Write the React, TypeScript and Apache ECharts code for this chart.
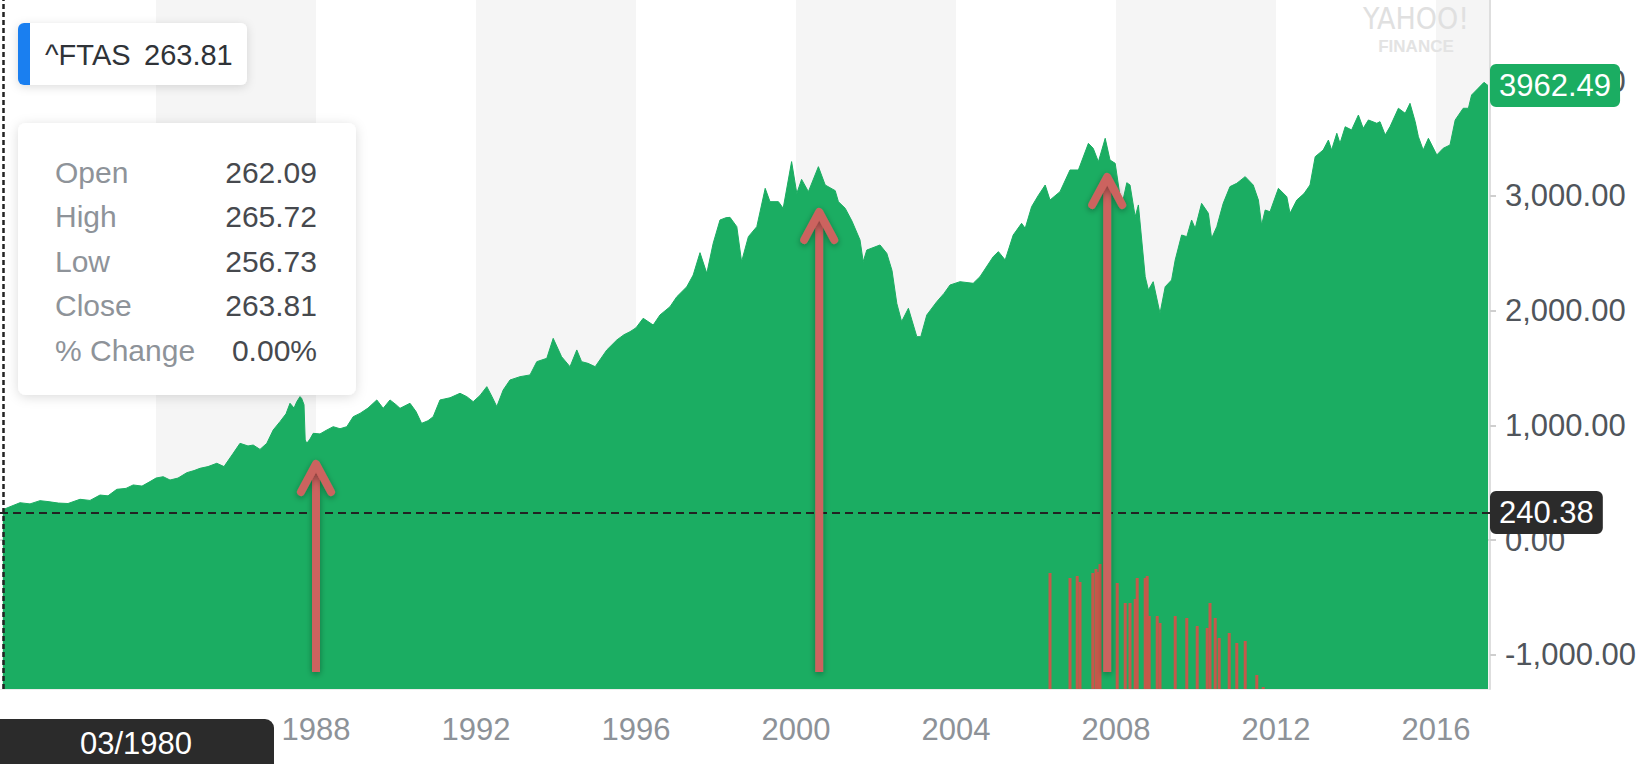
import React, { useEffect, useRef } from "react";
import * as echarts from "echarts";

// ---- data (decimal years) ----
const dates = [
  1980.17, 1980.35, 1980.6, 1980.85, 1981.1, 1981.3, 1981.56, 1981.8, 1982.1, 1982.35,
  1982.6, 1982.8, 1983.02, 1983.25, 1983.43, 1983.65, 1983.85, 1984.0, 1984.18, 1984.35,
  1984.55, 1984.77, 1984.95, 1985.1, 1985.3, 1985.52, 1985.7, 1985.93, 1986.1, 1986.3,
  1986.43, 1986.6, 1986.77, 1986.93, 1987.1, 1987.25, 1987.35, 1987.45, 1987.52, 1987.6,
  1987.64, 1987.7, 1987.73, 1987.77, 1987.85, 1987.93, 1988.1, 1988.25, 1988.43, 1988.6,
  1988.77, 1988.93, 1989.1, 1989.3, 1989.52, 1989.68, 1989.85, 1990.0, 1990.1, 1990.35,
  1990.5, 1990.64, 1990.8, 1990.93, 1991.1, 1991.35, 1991.6, 1991.77, 1991.93, 1992.1,
  1992.27, 1992.4, 1992.52, 1992.68, 1992.85, 1993.1, 1993.35, 1993.52, 1993.77, 1993.93,
  1994.14, 1994.35, 1994.52, 1994.64, 1994.8, 1994.98, 1995.27, 1995.52, 1995.7, 1995.85,
  1996.0, 1996.18, 1996.43, 1996.6, 1996.85, 1997.02, 1997.27, 1997.43, 1997.6, 1997.77,
  1997.93, 1998.1, 1998.25, 1998.35, 1998.52, 1998.64, 1998.81, 1999.02, 1999.23, 1999.35,
  1999.56, 1999.68, 1999.89, 2000.02, 2000.14, 2000.31, 2000.56, 2000.73, 2000.98, 2001.06,
  2001.23, 2001.4, 2001.6, 2001.68, 2001.77, 2002.1, 2002.27, 2002.4, 2002.52, 2002.64,
  2002.81, 2003.02, 2003.12, 2003.27, 2003.52, 2003.7, 2003.85, 2004.1, 2004.43, 2004.6,
  2004.93, 2005.06, 2005.23, 2005.43, 2005.64, 2005.73, 2005.89, 2006.05, 2006.23, 2006.35,
  2006.6, 2006.85, 2007.06, 2007.31, 2007.43, 2007.56, 2007.73, 2007.85, 2007.98, 2008.14,
  2008.27, 2008.35, 2008.48, 2008.56, 2008.73, 2008.81, 2008.93, 2009.1, 2009.23, 2009.39,
  2009.48, 2009.64, 2009.77, 2009.89, 2009.98, 2010.14, 2010.31, 2010.39, 2010.52, 2010.68,
  2010.85, 2011.02, 2011.23, 2011.43, 2011.56, 2011.64, 2011.73, 2011.85, 2012.06, 2012.27,
  2012.35, 2012.52, 2012.7, 2012.85, 2012.98, 2013.18, 2013.31, 2013.39, 2013.52, 2013.6,
  2013.73, 2013.89, 2014.06, 2014.18, 2014.31, 2014.52, 2014.6, 2014.73, 2014.85, 2015.06,
  2015.23, 2015.35, 2015.48, 2015.56, 2015.68, 2015.81, 2016.02, 2016.18, 2016.35, 2016.48,
  2016.68, 2016.81, 2016.89, 2017.06, 2017.2, 2017.3,
];
const closes = [
  263.81, 290, 325, 315, 343, 335, 322, 318, 355, 345,
  392, 385, 442, 450, 480, 470, 509, 540, 552, 523,
  540, 587, 605, 625, 640, 669, 640, 756, 843, 820,
  828, 790, 843, 959, 1032, 1100, 1192, 1150, 1206, 1250,
  1235, 1180, 872, 843, 880, 930, 925, 955, 988, 970,
  988, 1075, 1104, 1150, 1221, 1148, 1221, 1180, 1148, 1192,
  1120, 1017, 1040, 1075, 1221, 1240, 1279, 1250, 1206, 1260,
  1337, 1250, 1163, 1308, 1395, 1424, 1439, 1555, 1584, 1758,
  1598, 1511, 1657, 1555, 1540, 1511, 1657, 1744, 1790, 1816,
  1850, 1933, 1874, 1962, 2034, 2121, 2208, 2310, 2505, 2325,
  2587, 2790, 2810, 2813, 2732, 2427, 2645, 2732, 3066, 2950,
  2950, 2892, 3299, 3022, 3144, 3037, 3255, 3095, 3046, 2950,
  2892, 2780, 2616, 2427, 2528, 2572, 2499, 2350, 2063, 1904,
  2020, 1773, 1773, 1962, 2078, 2150, 2223, 2252, 2238, 2296,
  2470, 2514, 2441, 2659, 2761, 2717, 2906, 3000, 3095, 2964,
  3037, 3226, 3226, 3458, 3415, 3298, 3502, 3313, 3284, 2906,
  3115, 3095, 2819, 2921, 2296, 2180, 2252, 1976, 2208, 2267,
  2441, 2659, 2645, 2790, 2717, 2935, 2848, 2630, 2732, 2935,
  3081, 3110, 3168, 3095, 2964, 2746, 2877, 2862, 3066, 2993,
  2848, 2964, 3020, 3095, 3342, 3400, 3487, 3400, 3546, 3458,
  3603, 3575, 3705, 3589, 3662, 3633, 3647, 3531, 3603, 3764,
  3720, 3807, 3647, 3516, 3400, 3502, 3357, 3415, 3444, 3662,
  3764, 3764, 3880, 3940, 3990, 3962.49,
];

const volDates = [
  2006.35, 2006.85, 2007.03, 2007.1, 2007.42, 2007.5, 2007.54, 2007.6, 2008.03, 2008.23,
  2008.35, 2008.48, 2008.53, 2008.73, 2008.78, 2008.83, 2009.03, 2009.1, 2009.48, 2009.77,
  2010.03, 2010.28, 2010.35, 2010.48, 2010.58, 2010.83, 2011.02, 2011.23, 2011.52, 2011.68,
];
const volumes = [
  116, 111, 113, 107, 116, 120, 117, 125, 106, 86,
  86, 90, 111, 111, 113, 73, 73, 66, 73, 71,
  63, 61, 86, 71, 51, 56, 46, 48, 14, 2,
];

const arrowDates = [1988.0, 2000.58, 2007.78];
const arrowTips = [663, 2860, 3165];
const arrowBase = -1151;

const xMin = 1980.1;
const xMax = 2017.35;
const yMin = -1299;
const yMax = 4708;

const hiddenXLabels = [1984]; // covered by the date cursor label in the reference
const lastClose = 3962.49;
const cursorValue = 240.38;
const cursorDate = 1980.17;
const cursorLabel = "03/1980";
const symbolName = "^FTAS";
const symbolPrice = "263.81";
const tipLabels = ["Open", "High", "Low", "Close", "% Change"];
const tipValues = ["262.09", "265.72", "256.73", "263.81", "0.00%"];

const GREEN = "#1bad62";
const ARROW = "#cc645e";
const FONT = "'Liberation Sans', Arial, Helvetica, sans-serif";

export default function App() {
  const ref = useRef<HTMLDivElement>(null);

  useEffect(() => {
    if (!ref.current) return;
    const chart = echarts.init(ref.current, undefined, { renderer: "svg" });

    const rowGap = 44.5;
    const tipTexts: any[] = [];
    tipLabels.forEach((l, i) => {
      tipTexts.push({
        type: "text",
        x: 55,
        y: 172 + i * rowGap,
        z: 101,
        style: { text: l, fill: "#8e9399", fontSize: 30, fontFamily: FONT, textVerticalAlign: "middle", textAlign: "left" },
      });
      tipTexts.push({
        type: "text",
        x: 317,
        y: 172 + i * rowGap,
        z: 101,
        style: { text: tipValues[i], fill: "#46494e", fontSize: 30, fontFamily: FONT, textVerticalAlign: "middle", textAlign: "right" },
      });
    });

    const option: any = {
      animation: false,
      textStyle: { fontFamily: FONT },
      grid: { left: 0, right: 152, top: 0, bottom: 75, containLabel: false },
      xAxis: {
        type: "value",
        min: xMin,
        max: xMax,
        minInterval: 4,
        maxInterval: 4,
        splitNumber: 9,
        axisLine: { show: true, lineStyle: { color: "#d9d9d9", width: 2 } },
        axisTick: { show: true, length: 12, lineStyle: { color: "#d0d0d0", width: 2 } },
        axisLabel: {
          formatter: (v: number) => {
            const y = Math.round(v);
            return hiddenXLabels.indexOf(y) >= 0 ? "" : String(y);
          },
          showMinLabel: false,
          showMaxLabel: false,
          color: "#8d9298",
          fontSize: 31,
          margin: 25,
          fontFamily: FONT,
        },
        splitLine: { show: false },
        splitArea: { show: true, areaStyle: { color: ["#ffffff", "#f5f5f5"] } },
      },
      yAxis: [
        {
          type: "value",
          position: "right",
          min: yMin,
          max: yMax,
          minInterval: 1000,
          maxInterval: 1000,
          splitNumber: 6,
          axisLine: { show: true, lineStyle: { color: "#dedede", width: 2 } },
          axisTick: { show: true, length: 6, lineStyle: { color: "#cfcfcf", width: 2 } },
          axisLabel: {
            formatter: (v: number) =>
              v.toLocaleString("en-US", { minimumFractionDigits: 2, maximumFractionDigits: 2 }),
            showMinLabel: false,
            showMaxLabel: false,
            color: "#50555b",
            fontSize: 31,
            margin: 15,
            fontFamily: FONT,
          },
          splitLine: { show: true, lineStyle: { color: "#ececec", width: 2 } },
        },
        { type: "value", min: 0, max: 689, show: false },
      ],
      series: [
        {
          type: "line",
          data: dates.map((d, i) => [d, closes[i]]),
          showSymbol: false,
          symbol: "none",
          lineStyle: { width: 1, color: GREEN },
          areaStyle: { color: GREEN, opacity: 1, origin: "start" },
          z: 2,
          markLine: {
            symbol: ["none", "none"],
            silent: true,
            animation: false,
            data: [
              {
                yAxis: cursorValue,
                lineStyle: { type: [8, 5], color: "#222222", width: 2 },
                label: {
                  show: true,
                  position: "end",
                  distance: 0,
                  formatter: String(cursorValue),
                  color: "#ffffff",
                  backgroundColor: "#2b2b2b",
                  padding: [7, 9, 5, 9],
                  borderRadius: 6,
                  fontSize: 31,
                  fontFamily: FONT,
                },
              },
              {
                yAxis: lastClose,
                lineStyle: { color: "rgba(0,0,0,0)", width: 0 },
                label: {
                  show: true,
                  position: "end",
                  distance: 0,
                  formatter: String(lastClose),
                  color: "#ffffff",
                  backgroundColor: GREEN,
                  padding: [7, 9, 5, 9],
                  borderRadius: 6,
                  fontSize: 31,
                  fontFamily: FONT,
                },
              },
              {
                xAxis: cursorDate,
                lineStyle: { type: [5, 3], color: "#222222", width: 2.5 },
                label: { show: false },
              },
            ],
          },
        },
        {
          type: "bar",
          xAxisIndex: 0,
          yAxisIndex: 1,
          data: volDates.map((d, i) => [d, volumes[i]]),
          barWidth: 3,
          itemStyle: { color: "#c5584a" },
          z: 3,
        },
        {
          type: "custom",
          coordinateSystem: "cartesian2d",
          xAxisIndex: 0,
          yAxisIndex: 0,
          z: 10,
          data: arrowDates.map((d, i) => [d, arrowTips[i], arrowBase]),
          encode: { x: 0, y: [1, 2] },
          renderItem: (params: any, api: any) => {
            const tip = api.coord([api.value(0), api.value(1)]);
            const base = api.coord([api.value(0), api.value(2)]);
            const shadow = {
              shadowBlur: 6,
              shadowColor: "rgba(0,0,0,0.35)",
              shadowOffsetY: 2,
            };
            return {
              type: "group",
              children: [
                {
                  type: "rect",
                  shape: { x: tip[0] - 4, y: tip[1] + 4, width: 8, height: base[1] - tip[1] - 4 },
                  style: { fill: ARROW, ...shadow },
                },
                {
                  type: "polyline",
                  shape: {
                    points: [
                      [tip[0] - 15, tip[1] + 28],
                      [tip[0], tip[1]],
                      [tip[0] + 15, tip[1] + 28],
                    ],
                  },
                  style: { stroke: ARROW, lineWidth: 8, fill: null, lineCap: "round", lineJoin: "round", ...shadow },
                },
              ],
            };
          },
        },
      ],
      graphic: [
        // watermark
        {
          type: "text",
          x: 1416,
          y: 18,
          z: 1,
          style: {
            text: "YAHOO!",
            fill: "#e0e0e0",
            fontSize: 30,
            fontFamily: "'Liberation Sans Narrow', 'DejaVu Sans Condensed', sans-serif",
            textAlign: "center",
            textVerticalAlign: "middle",
          },
        },
        {
          type: "text",
          x: 1416,
          y: 46,
          z: 1,
          style: {
            text: "FINANCE",
            fill: "#e3e3e3",
            fontSize: 17,
            fontWeight: "bold",
            fontFamily: FONT,
            textAlign: "center",
            textVerticalAlign: "middle",
          },
        },
        // symbol box
        {
          type: "rect",
          z: 100,
          shape: { x: 18, y: 23, width: 229, height: 62, r: 6 },
          style: { fill: "#ffffff", shadowBlur: 10, shadowColor: "rgba(0,0,0,0.14)", shadowOffsetY: 2 },
        },
        {
          type: "rect",
          z: 101,
          shape: { x: 18, y: 23, width: 12, height: 62, r: [6, 0, 0, 6] },
          style: { fill: "#1a7ff0" },
        },
        {
          type: "text",
          x: 45,
          y: 55,
          z: 101,
          style: { text: symbolName, fill: "#2f3338", fontSize: 29, fontFamily: FONT, textVerticalAlign: "middle" },
        },
        {
          type: "text",
          x: 144,
          y: 55,
          z: 101,
          style: { text: symbolPrice, fill: "#2f3338", fontSize: 29, fontFamily: FONT, textVerticalAlign: "middle" },
        },
        // tooltip box
        {
          type: "rect",
          z: 100,
          shape: { x: 18, y: 123, width: 338, height: 272, r: 8 },
          style: { fill: "#ffffff", shadowBlur: 12, shadowColor: "rgba(0,0,0,0.14)", shadowOffsetY: 2 },
        },
        ...tipTexts,
        // date cursor label
        {
          type: "rect",
          z: 100,
          shape: { x: 0, y: 719, width: 274, height: 52, r: [0, 9, 0, 0] },
          style: { fill: "#2b2b2b" },
        },
        {
          type: "text",
          x: 136,
          y: 743,
          z: 101,
          style: {
            text: cursorLabel,
            fill: "#ffffff",
            fontSize: 31,
            fontFamily: FONT,
            textAlign: "center",
            textVerticalAlign: "middle",
          },
        },
      ],
    };

    chart.setOption(option);
    return () => chart.dispose();
  }, []);

  return (
    <div
      ref={ref}
      style={{ position: "absolute", left: 0, top: 0, width: 1642, height: 764, background: "#ffffff" }}
    />
  );
}
